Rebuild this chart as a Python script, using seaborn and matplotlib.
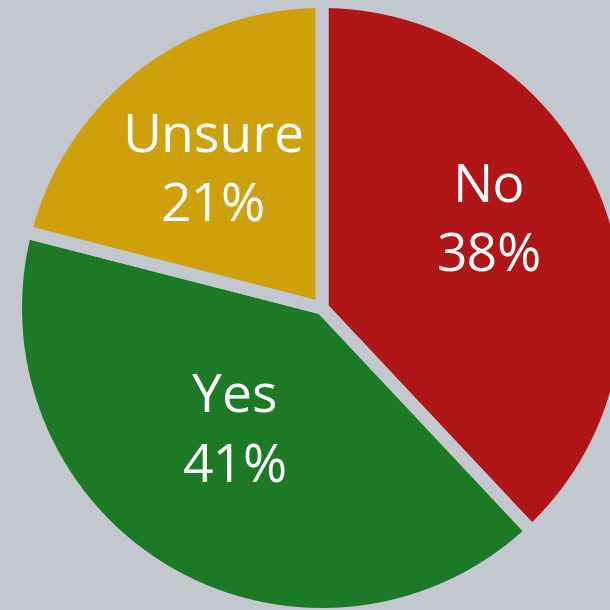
import matplotlib
matplotlib.use("Agg")
import matplotlib.pyplot as plt
import seaborn as sns
import numpy as np

# Survey answers, drawn clockwise from twelve o'clock
answers = ["No", "Yes", "Unsure"]
shares = [38, 41, 21]
slice_colors = ["#B01518", "#1C7A26", "#CDA00C"]

# Label anchor per slice: (radius fraction, angle nudge in degrees)
label_radius = [0.611, 0.497, 0.566]
label_nudge = [5.4, -4.2, 1.1]

sns.set_theme(style="white")
plt.rcParams["font.family"] = ["Open Sans", "DejaVu Sans"]

bg = "#C3C7CE"
W = H = 610
dpi = 100
fig = plt.figure(figsize=(W / dpi, H / dpi), dpi=dpi, facecolor=bg)
ax = fig.add_axes([0, 0, 1, 1])
ax.set_facecolor(bg)

R_px = 306.5
cx, cy = 322, 308  # pie centre in pixels from the top-left corner

wedges, _ = ax.pie(
    shares,
    colors=sns.color_palette(slice_colors),
    startangle=90,
    counterclock=False,
    radius=1.0,
    wedgeprops=dict(edgecolor=bg, linewidth=13 * 72 / dpi, joinstyle="miter"),
)

ax.set_xlim(-cx / R_px, (W - cx) / R_px)
ax.set_ylim(-(H - cy) / R_px, cy / R_px)
ax.set_aspect("equal")
ax.axis("off")

for w, name, val, r, nudge in zip(wedges, answers, shares, label_radius, label_nudge):
    mid = np.deg2rad((w.theta1 + w.theta2) / 2 + nudge)
    ax.text(r * np.cos(mid), r * np.sin(mid), f"{name}\n{val}%",
            ha="center", va="center", color="white", fontsize=38.5,
            fontweight="normal", linespacing=1.42)

fig.savefig("out.png", dpi=dpi, facecolor=bg)
